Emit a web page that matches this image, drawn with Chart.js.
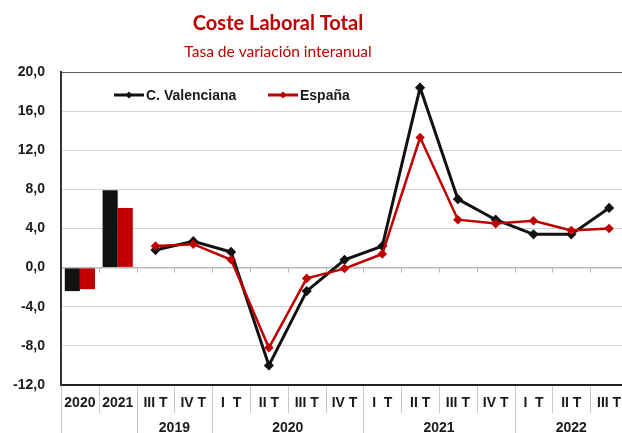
<!DOCTYPE html>
<html>
<head>
<meta charset="utf-8">
<script src="https://cdn.jsdelivr.net/npm/chart.js@4.4.1/dist/chart.umd.min.js"></script>
<style>
  html, body { margin: 0; padding: 0; background: #fff; }
  #wrap { width: 622px; height: 433px; overflow: hidden; position: relative; }
  #chart { display: block; }
</style>
</head>
<body>
<div id="wrap"><canvas id="chart" width="640" height="433"></canvas></div>
<script>
// categorias del eje X (primero las medias anuales, luego los trimestres)
const periodos = ['2020', '2021', 'III T', 'IV T', 'I  T', 'II T', 'III T', 'IV T',
  'I  T', 'II T', 'III T', 'IV T', 'I  T', 'II T', 'III T'];
const anios = ['', '', '2019', '2019', '2020', '2020', '2020', '2020',
  '2021', '2021', '2021', '2021', '2022', '2022', '2022'];

// medias anuales (barras)
const cvAnual = [-2.4, 7.9];
const espAnual = [-2.2, 6.1];

// variacion trimestral interanual (lineas)
const cvTrim = [1.8, 2.7, 1.6, -10.0, -2.4, 0.8, 2.2, 18.4, 7.0, 4.9, 3.4, 3.4, 6.1];
const espTrim = [2.2, 2.4, 0.8, -8.2, -1.1, -0.1, 1.4, 13.3, 4.9, 4.5, 4.8, 3.8, 4.0];

const yTicks = [-12, -8, -4, 0, 4, 8, 12, 16, 20];

const ROJO = '#C00000';
const NEGRO = '#111111';
const FUENTE = '"Liberation Sans", Arial, sans-serif';

const relleno = n => Array(n).fill(null);

const extras = {
  id: 'extras',
  afterDraw(chart) {
    const ctx = chart.ctx;
    const x = chart.scales.x;
    const y = chart.scales.y;
    const area = chart.chartArea;
    const half = (x.getPixelForValue(1) - x.getPixelForValue(0)) / 2;
    const borde = i => x.getPixelForValue(i) - half;
    ctx.save();

    // marcas del eje en el cero
    const y0 = y.getPixelForValue(0);
    ctx.strokeStyle = '#b8b8b8';
    ctx.lineWidth = 1;
    for (let i = 1; i < periodos.length; i++) {
      const px = Math.round(borde(i)) + 0.5;
      ctx.beginPath();
      ctx.moveTo(px, y0);
      ctx.lineTo(px, y0 + 5);
      ctx.stroke();
    }

    // separadores de la zona de etiquetas
    ctx.strokeStyle = '#c8c8c8';
    for (let i = 0; i <= periodos.length; i++) {
      const inicio = i === 0 || i === periodos.length || anios[i] !== anios[i - 1];
      const px = Math.round(borde(i)) + 0.5;
      ctx.beginPath();
      ctx.moveTo(px, area.bottom + 1);
      ctx.lineTo(px, inicio ? chart.height : area.bottom + 28);
      ctx.stroke();
    }

    // etiquetas de año
    ctx.fillStyle = '#1a1a1a';
    ctx.font = 'bold 14px ' + FUENTE;
    ctx.textAlign = 'center';
    ctx.textBaseline = 'middle';
    let i = 0;
    while (i < anios.length) {
      let j = i;
      while (j + 1 < anios.length && anios[j + 1] === anios[i]) j++;
      if (anios[i]) {
        const cx = (x.getPixelForValue(i) + x.getPixelForValue(j)) / 2;
        ctx.fillText(anios[i], cx, area.bottom + 43);
      }
      i = j + 1;
    }

    // leyenda
    const items = [
      { label: 'C. Valenciana', color: NEGRO, x0: 114 },
      { label: 'España', color: ROJO, x0: 268 }
    ];
    const ly = 95;
    items.forEach(it => {
      ctx.strokeStyle = it.color;
      ctx.fillStyle = it.color;
      ctx.lineWidth = 3;
      ctx.beginPath();
      ctx.moveTo(it.x0, ly);
      ctx.lineTo(it.x0 + 30, ly);
      ctx.stroke();
      ctx.beginPath();
      ctx.moveTo(it.x0 + 15, ly - 3.5);
      ctx.lineTo(it.x0 + 18.5, ly);
      ctx.lineTo(it.x0 + 15, ly + 3.5);
      ctx.lineTo(it.x0 + 11.5, ly);
      ctx.closePath();
      ctx.fill();
      ctx.fillStyle = '#1a1a1a';
      ctx.font = 'bold 14px ' + FUENTE;
      ctx.textAlign = 'left';
      ctx.fillText(it.label, it.x0 + 32, ly + 1);
    });

    // titulo
    ctx.fillStyle = ROJO;
    ctx.textAlign = 'center';
    ctx.font = 'bold 20px Lato, "Open Sans", sans-serif';
    ctx.fillText('Coste Laboral Total', 278, 24);
    ctx.font = '15.5px Lato, "Open Sans", sans-serif';
    ctx.fillText('Tasa de variación interanual', 278, 52);
    ctx.restore();
  }
};

new Chart(document.getElementById('chart'), {
  type: 'bar',
  data: {
    labels: periodos,
    datasets: [
      {
        type: 'bar',
        label: 'C. Valenciana',
        data: cvAnual.concat(relleno(cvTrim.length)),
        backgroundColor: NEGRO,
        order: 3
      },
      {
        type: 'bar',
        label: 'España',
        data: espAnual.concat(relleno(espTrim.length)),
        backgroundColor: ROJO,
        order: 3
      },
      {
        type: 'line',
        label: 'C. Valenciana',
        data: relleno(cvAnual.length).concat(cvTrim),
        borderColor: NEGRO,
        backgroundColor: NEGRO,
        borderWidth: 3,
        pointStyle: 'rectRot',
        pointRadius: 3,
        tension: 0,
        order: 2
      },
      {
        type: 'line',
        label: 'España',
        data: relleno(espAnual.length).concat(espTrim),
        borderColor: ROJO,
        backgroundColor: ROJO,
        borderWidth: 2.5,
        pointStyle: 'rectRot',
        pointRadius: 3,
        tension: 0,
        order: 1
      }
    ]
  },
  options: {
    responsive: false,
    animation: false,
    layout: {
      padding: { top: 72, right: 12, left: 0, bottom: 0 }
    },
    datasets: {
      bar: { categoryPercentage: 0.8, barPercentage: 1 }
    },
    plugins: {
      legend: { display: false },
      title: { display: false },
      tooltip: { enabled: false }
    },
    scales: {
      x: {
        afterFit(scale) { scale.height = 48; },
        grid: { display: false, drawTicks: false },
        border: { display: true, color: '#222', width: 2 },
        ticks: {
          autoSkip: false,
          maxRotation: 0,
          padding: 10,
          color: '#1a1a1a',
          font: { family: FUENTE, size: 14, weight: 'bold' }
        }
      },
      y: {
        min: -12,
        max: 20,
        afterFit(scale) { scale.width = 61; },
        afterBuildTicks(scale) { scale.ticks = yTicks.map(v => ({ value: v })); },
        grid: {
          drawTicks: false,
          lineWidth: ctx => (ctx.tick && ctx.tick.value === 0 ? 1.5 : 1),
          color: ctx => {
            const v = ctx.tick ? ctx.tick.value : null;
            if (v === 0) return '#b8b8b8';
            if (v === 20) return '#606060';
            if (v === -12) return 'rgba(0,0,0,0)';
            return '#d4d4d4';
          }
        },
        border: { display: true, color: '#333', width: 2 },
        ticks: {
          padding: 16,
          color: '#1a1a1a',
          font: { family: FUENTE, size: 14, weight: 'bold' },
          callback: v => v.toFixed(1).replace('.', ',')
        }
      }
    }
  },
  plugins: [extras]
});
</script>
</body>
</html>
